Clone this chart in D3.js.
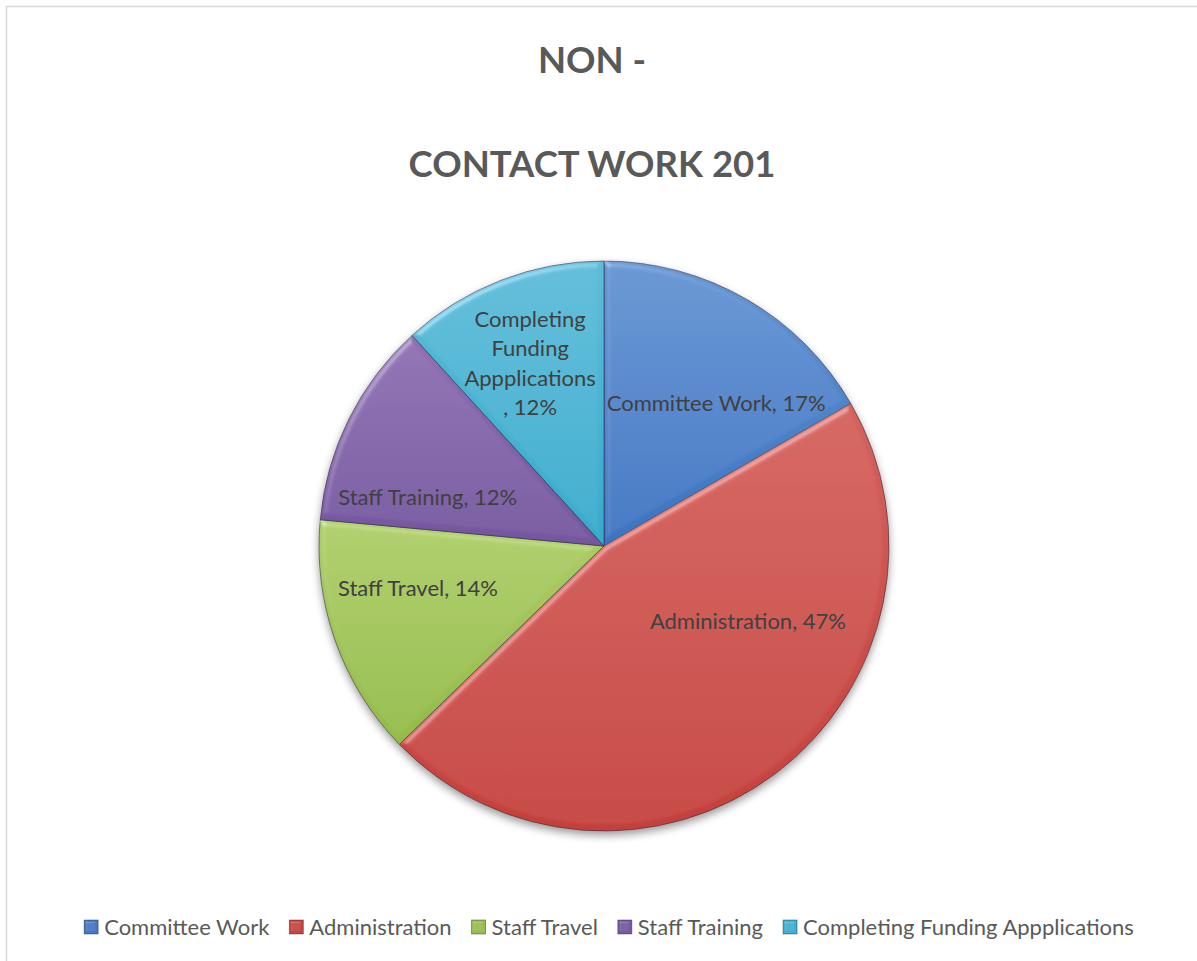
<!DOCTYPE html>
<html>
<head>
<meta charset="utf-8">
<script src="https://cdn.jsdelivr.net/npm/d3@7"></script>
<style>
  html, body { margin: 0; padding: 0; background: #ffffff; }
  svg { display: block; }
  text { font-family: Lato, "Open Sans", sans-serif; }
</style>
</head>
<body>
<svg id="chart" width="1197" height="961"></svg>
<script>
// Non-contact work breakdown (percent of time)
const categories = ["Committee Work", "Administration", "Staff Travel", "Staff Training", "Completing Funding Appplications"];
const values = [17, 47, 14, 12, 12];
const sliceLabels = [
  ["Committee Work, 17%"],
  ["Administration, 47%"],
  ["Staff Travel, 14%"],
  ["Staff Training, 12%"],
  ["Completing", "Funding", "Appplications", ", 12%"]
];
const titleLines = ["NON -", "CONTACT WORK 201"];

// Light / dark stops for each slice fill
const colorTop = ["#6494d2", "#d4625d", "#aecd68", "#8f70b2", "#5cbcd8"];
const colorBottom = ["#3a74c1", "#c4403b", "#93bb48", "#74559f", "#36aacc"];
const legendColors = ["#4079c2", "#c3443f", "#98bd4d", "#7859a2", "#3cafcf"];

const svg = d3.select("#chart");
const W = 1197, H = 961;
const cx = 604, cy = 546, R = 285;

// Outer chart-area frame
svg.append("rect")
  .attr("x", 6.5).attr("y", 6.5)
  .attr("width", W + 10).attr("height", H + 10)
  .attr("fill", "#ffffff")
  .attr("stroke", "#d9d9d9").attr("stroke-width", 1.5);

const defs = svg.append("defs");

// Soft shadow under the pie
const shadow = defs.append("filter").attr("id", "pieShadow")
  .attr("x", "-10%").attr("y", "-10%").attr("width", "120%").attr("height", "125%");
shadow.append("feGaussianBlur").attr("in", "SourceAlpha").attr("stdDeviation", 4).attr("result", "b");
shadow.append("feOffset").attr("in", "b").attr("dx", 0).attr("dy", 4).attr("result", "o");
shadow.append("feComponentTransfer").attr("in", "o").attr("result", "s")
  .append("feFuncA").attr("type", "linear").attr("slope", 0.4);
const sm = shadow.append("feMerge");
sm.append("feMergeNode").attr("in", "s");
sm.append("feMergeNode").attr("in", "SourceGraphic");

// Bevel lighting for each slice
function addBevel(id, blur, strength) {
  const f = defs.append("filter").attr("id", id)
    .attr("x", "-5%").attr("y", "-5%").attr("width", "110%").attr("height", "110%");
  f.append("feGaussianBlur").attr("in", "SourceAlpha").attr("stdDeviation", blur).attr("result", "blur");
  const spec = f.append("feSpecularLighting")
    .attr("in", "blur").attr("surfaceScale", 3).attr("specularConstant", 0.6)
    .attr("specularExponent", 30).attr("lighting-color", "#ffffff").attr("result", "spec");
  spec.append("feDistantLight").attr("azimuth", 235).attr("elevation", 45);
  f.append("feComposite").attr("in", "spec").attr("in2", "SourceAlpha").attr("operator", "in").attr("result", "specIn");
  f.append("feComposite").attr("in", "SourceGraphic").attr("in2", "specIn")
    .attr("operator", "arithmetic").attr("k1", 0).attr("k2", 1).attr("k3", strength).attr("k4", 0);
}
addBevel("bevel", 3, 0.4);
addBevel("bevelSmall", 1.2, 0.5);

categories.forEach((c, i) => {
  const g = defs.append("linearGradient").attr("id", "grad" + i)
    .attr("x1", 0).attr("y1", 0).attr("x2", 0).attr("y2", 1);
  g.append("stop").attr("offset", "0%").attr("stop-color", colorTop[i]);
  g.append("stop").attr("offset", "100%").attr("stop-color", colorBottom[i]);
});

// Titles
const titleY = [73, 177];
titleLines.forEach((t, i) => {
  svg.append("text")
    .attr("x", 592).attr("y", titleY[i])
    .attr("text-anchor", "middle")
    .attr("font-size", 36.5).attr("font-weight", 700)
    .attr("fill", "#595959")
    .text(t);
});

// Pie
const pie = d3.pie().sort(null).value(d => d);
const arcs = pie(values);
const arc = d3.arc().innerRadius(0).outerRadius(R);

const pieG = svg.append("g").attr("transform", `translate(${cx},${cy})`).attr("filter", "url(#pieShadow)");
pieG.selectAll("path.slice").data(arcs).enter().append("path")
  .attr("class", "slice")
  .attr("d", arc)
  .attr("fill", (d, i) => `url(#grad${i})`)
  .attr("filter", "url(#bevel)")
  .attr("stroke", "rgba(40,40,60,0.55)")
  .attr("stroke-width", 1);

// Data labels: placed along each slice, nudged as best-fit would
const labelArc = d3.arc().innerRadius(R * 0.64).outerRadius(R * 0.64);
const labelShift = [[21, 15], [34, -71], [-14, -19], [-13, 32], [-8, -13]];
const lineH = 29.5;
const labelG = svg.append("g").attr("transform", `translate(${cx},${cy})`);
arcs.forEach((d, i) => {
  const [x, y] = labelArc.centroid(d);
  const lines = sliceLabels[i];
  const px = x + labelShift[i][0], py = y + labelShift[i][1];
  const t = labelG.append("text")
    .attr("text-anchor", "middle")
    .attr("font-size", 22)
    .attr("fill", "#404040");
  lines.forEach((ln, j) => {
    t.append("tspan")
      .attr("x", px)
      .attr("y", py + (j - (lines.length - 1) / 2) * lineH + 8)
      .text(ln);
  });
});

// Legend
const legendG = svg.append("g");
const legendY = 927;
const sq = 14, gapSq = 6, gapItem = 20;
const items = [];
let xPos = 0;
categories.forEach((c, i) => {
  const g = legendG.append("g");
  g.append("rect").attr("x", 0).attr("y", -sq / 2).attr("width", sq).attr("height", sq)
    .attr("fill", legendColors[i]).attr("filter", "url(#bevelSmall)")
    .attr("stroke", "rgba(30,30,50,0.5)").attr("stroke-width", 0.8);
  const t = g.append("text").attr("x", sq + gapSq).attr("y", 8)
    .attr("font-size", 22).attr("fill", "#595959").text(c);
  const w = sq + gapSq + t.node().getComputedTextLength();
  items.push({ g, x: xPos });
  xPos += w + gapItem;
});
const total = xPos - gapItem;
const startX = 609 - total / 2;
items.forEach(it => it.g.attr("transform", `translate(${startX + it.x},${legendY})`));
</script>
</body>
</html>
